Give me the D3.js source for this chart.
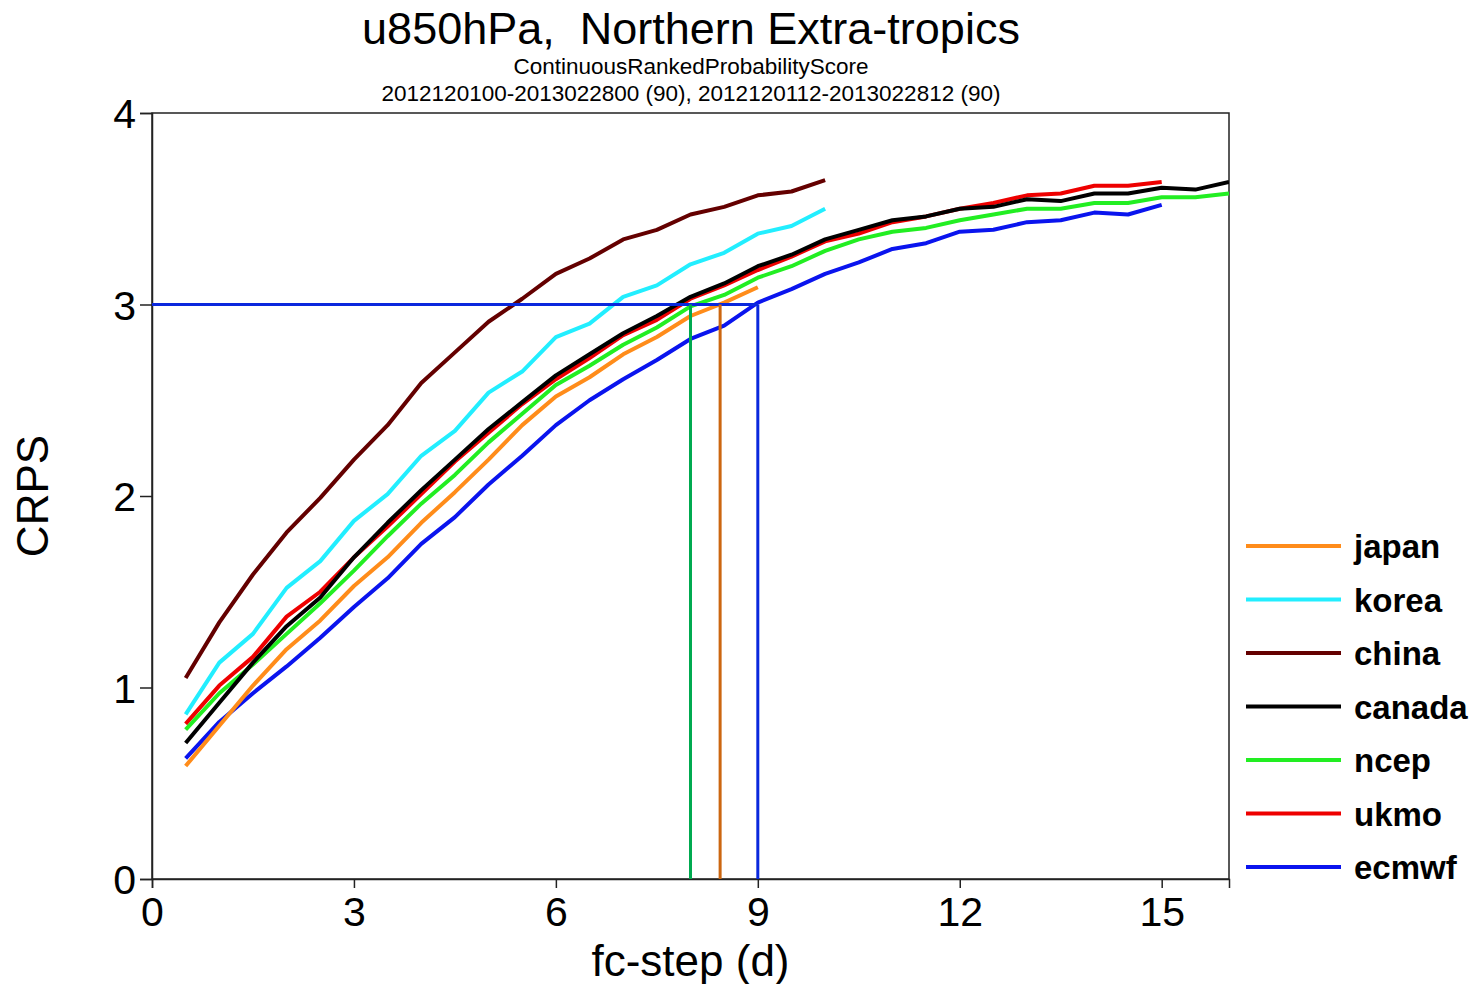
<!DOCTYPE html>
<html>
<head>
<meta charset="utf-8">
<script src="https://cdn.jsdelivr.net/npm/d3@7/dist/d3.min.js"></script>
<style>
  html, body { margin: 0; padding: 0; background: #fff; }
  svg { display: block; font-family: "Liberation Sans", Arial, sans-serif; }
</style>
</head>
<body>
<svg id="chart" width="1473" height="984"></svg>
<script>
// ---- data (CRPS by forecast step, 0.5 d spacing starting at 0.5) ----
const stepStart = 0.5, stepSize = 0.5;
const japan  = [0.59, 0.80, 1.01, 1.20, 1.35, 1.53, 1.68, 1.86, 2.02, 2.19, 2.37, 2.52, 2.62, 2.74, 2.83, 2.94, 3.01, 3.09];
const korea  = [0.86, 1.13, 1.28, 1.52, 1.66, 1.87, 2.01, 2.21, 2.34, 2.54, 2.65, 2.83, 2.90, 3.04, 3.10, 3.21, 3.27, 3.37, 3.41, 3.50];
const china  = [1.05, 1.34, 1.59, 1.81, 1.99, 2.19, 2.37, 2.59, 2.75, 2.91, 3.03, 3.16, 3.24, 3.34, 3.39, 3.47, 3.51, 3.57, 3.59, 3.65];
const canada = [0.71, 0.92, 1.13, 1.32, 1.47, 1.68, 1.86, 2.03, 2.19, 2.35, 2.49, 2.63, 2.74, 2.85, 2.94, 3.04, 3.11, 3.20, 3.26, 3.34,
                3.39, 3.44, 3.46, 3.50, 3.51, 3.55, 3.54, 3.58, 3.58, 3.61, 3.60, 3.64];
const ncep   = [0.78, 0.97, 1.12, 1.28, 1.44, 1.61, 1.79, 1.96, 2.11, 2.28, 2.43, 2.58, 2.68, 2.79, 2.88, 2.99, 3.05, 3.14, 3.20, 3.28,
                3.34, 3.38, 3.40, 3.44, 3.47, 3.50, 3.50, 3.53, 3.53, 3.56, 3.56, 3.58];
const ukmo   = [0.81, 1.01, 1.16, 1.37, 1.50, 1.68, 1.84, 2.01, 2.18, 2.33, 2.48, 2.61, 2.72, 2.84, 2.92, 3.03, 3.10, 3.18, 3.25, 3.33,
                3.37, 3.43, 3.46, 3.50, 3.53, 3.57, 3.58, 3.62, 3.62, 3.64];
const ecmwf  = [0.63, 0.82, 0.97, 1.11, 1.26, 1.42, 1.57, 1.75, 1.89, 2.06, 2.21, 2.37, 2.50, 2.61, 2.71, 2.82, 2.89, 3.01, 3.08, 3.16,
                3.22, 3.29, 3.32, 3.38, 3.39, 3.43, 3.44, 3.48, 3.47, 3.52];

const seriesNames = ['japan', 'korea', 'china', 'canada', 'ncep', 'ukmo', 'ecmwf'];
const seriesValues = [japan, korea, china, canada, ncep, ukmo, ecmwf];
const seriesColors = ['#ff8c1a', '#22eeff', '#640000', '#000000', '#22ee22', '#ee0000', '#0a14ee'];

// CRPS = 3 crossing points (ncep, japan, ecmwf)
const crpsLevel = 3;
const crossDays = [8.0, 8.44, 9.0];
const crossColors = ['#00aa50', '#cc6610', '#0a28dd'];

const xTicks = [0, 3, 6, 9, 12, 15];
const yTicks = [0, 1, 2, 3, 4];

// ---- layout ----
const svg = d3.select('#chart');
const plotL = 152, plotR = 1229, plotT = 113, plotB = 879;

const x = d3.scaleLinear().domain([0, 16]).range([plotL, plotR]);
const y = d3.scaleLinear().domain([0, 4]).range([plotB, plotT]);

// Titles
svg.append('text')
  .attr('x', 691).attr('y', 44)
  .attr('text-anchor', 'middle')
  .attr('font-size', 45)
  .style('white-space', 'pre')
  .text('u850hPa,  Northern Extra-tropics');
svg.append('text')
  .attr('x', 691).attr('y', 74)
  .attr('text-anchor', 'middle')
  .attr('font-size', 22.5)
  .text('ContinuousRankedProbabilityScore');
svg.append('text')
  .attr('x', 691).attr('y', 101)
  .attr('text-anchor', 'middle')
  .attr('font-size', 22.5)
  .text('2012120100-2013022800 (90), 2012120112-2013022812 (90)');

// Frame
svg.append('rect')
  .attr('x', plotL).attr('y', plotT)
  .attr('width', plotR - plotL).attr('height', plotB - plotT)
  .attr('fill', 'none')
  .attr('stroke', '#222')
  .attr('stroke-width', 1.5);

// Axes
const xAxis = svg.append('g')
  .attr('transform', `translate(0,${plotB})`)
  .call(d3.axisBottom(x).tickValues(xTicks).tickSize(9).tickPadding(7).tickFormat(d3.format('d')));
const yAxis = svg.append('g')
  .attr('transform', `translate(${plotL},0)`)
  .call(d3.axisLeft(y).tickValues(yTicks).tickSize(12).tickPadding(4).tickFormat(d3.format('d')));

[xAxis, yAxis].forEach(a => {
  a.select('.domain').attr('stroke', '#222').attr('stroke-width', 1.5);
  a.selectAll('.tick line').attr('stroke', '#222').attr('stroke-width', 1.5);
  a.selectAll('.tick text')
    .attr('fill', '#000')
    .attr('font-size', 41)
    .attr('font-family', '"Liberation Sans", Arial, sans-serif');
});
xAxis.selectAll('.tick text').attr('dy', '0.75em');
yAxis.selectAll('.tick text').attr('dy', '0.36em');

// Axis titles
svg.append('text')
  .attr('x', x(8)).attr('y', 976)
  .attr('text-anchor', 'middle')
  .attr('font-size', 44)
  .text('fc-step (d)');
svg.append('text')
  .attr('transform', `translate(48,${(plotT + plotB) / 2}) rotate(-90)`)
  .attr('text-anchor', 'middle')
  .attr('font-size', 44)
  .text('CRPS');

// Series lines (drawn so that japan ends on top)
svg.append('clipPath').attr('id', 'plot-clip')
  .append('rect').attr('x', plotL).attr('y', plotT)
  .attr('width', plotR - plotL).attr('height', plotB - plotT);

const line = d3.line()
  .x((d, i) => x(stepStart + i * stepSize))
  .y(d => y(d));

const plot = svg.append('g').attr('clip-path', 'url(#plot-clip)');
for (let i = seriesNames.length - 1; i >= 0; i--) {
  plot.append('path')
    .datum(seriesValues[i])
    .attr('fill', 'none')
    .attr('stroke', seriesColors[i])
    .attr('stroke-width', 4)
    .attr('stroke-linejoin', 'round')
    .attr('d', line);
}

// Threshold guide lines
plot.append('line')
  .attr('x1', x(0)).attr('x2', x(d3.max(crossDays)))
  .attr('y1', y(crpsLevel)).attr('y2', y(crpsLevel))
  .attr('stroke', crossColors[2])
  .attr('stroke-width', 3);
crossDays.forEach((d, i) => {
  plot.append('line')
    .attr('x1', x(d)).attr('x2', x(d))
    .attr('y1', y(crpsLevel)).attr('y2', y(0))
    .attr('stroke', crossColors[i])
    .attr('stroke-width', 3);
});

// Legend
const legend = svg.append('g');
seriesNames.forEach((name, i) => {
  const ly = 546 + i * 53.5;
  legend.append('line')
    .attr('x1', 1246).attr('x2', 1341)
    .attr('y1', ly).attr('y2', ly)
    .attr('stroke', seriesColors[i])
    .attr('stroke-width', 4);
  legend.append('text')
    .attr('x', 1354).attr('y', ly + 12)
    .attr('font-size', 33)
    .attr('font-weight', 'bold')
    .text(name);
});
</script>
</body>
</html>
